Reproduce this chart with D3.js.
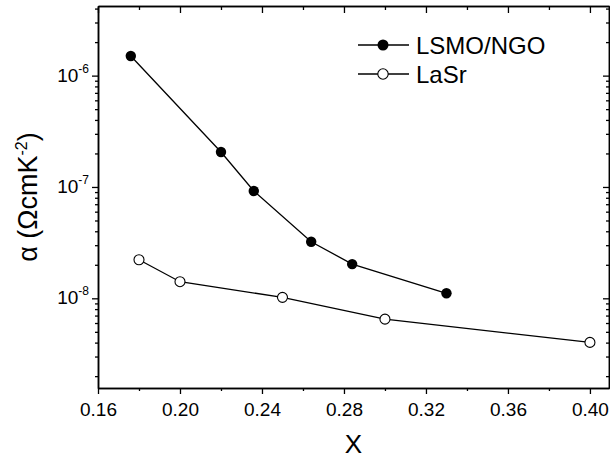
<!DOCTYPE html>
<html>
<head>
<meta charset="utf-8">
<script src="https://cdn.jsdelivr.net/npm/d3@7"></script>
<style>
  body { margin: 0; background: #fff; }
  svg { display: block; }
  text { font-family: "Liberation Sans", Arial, Helvetica, sans-serif; fill: #000; }
</style>
</head>
<body>
<svg id="chart" width="610" height="459"></svg>
<script>
// Temperature coefficient alpha versus Sr content x
const lsmoX = [0.176, 0.220, 0.236, 0.264, 0.284, 0.330];
const lsmoY = [1.50e-6, 2.06e-7, 9.2e-8, 3.22e-8, 2.03e-8, 1.11e-8];
const lasrX = [0.180, 0.200, 0.250, 0.300, 0.400];
const lasrY = [2.22e-8, 1.41e-8, 1.02e-8, 6.5e-9, 4.02e-9];
const seriesNames = ["LSMO/NGO", "LaSr"];
const xTickLabels = ["0.16", "0.20", "0.24", "0.28", "0.32", "0.36", "0.40"];
const xMinorTicks = [0.18, 0.22, 0.26, 0.30, 0.34, 0.38];
const yDecades = [-8, -7, -6];

const W = 610, H = 459;
const margin = { top: 6, right: 1, bottom: 71, left: 98 };
const svg = d3.select("#chart");

const x = d3.scaleLinear()
  .domain([0.16, 0.4093])
  .range([margin.left, W - margin.right]);
const y = d3.scaleLog()
  .domain([1.565e-9, 4.22e-6])
  .range([H - margin.bottom, margin.top]);

const xMajor = xTickLabels.map(Number);
const yMajor = yDecades.map(e => Math.pow(10, e));
const yMinor = y.ticks().filter(v => !yMajor.some(m => Math.abs(v / m - 1) < 1e-6));

function styleAxis(g) {
  g.selectAll("path.domain").attr("stroke", "#000").attr("stroke-width", 1.5);
  g.selectAll(".tick line").attr("stroke", "#000").attr("stroke-width", 1.3);
  return g;
}

const bottomY = H - margin.bottom;
const rightX = W - margin.right;

// Bottom axis (outward ticks, labelled)
svg.append("g").attr("transform", `translate(0,${bottomY})`)
  .call(d3.axisBottom(x).tickValues(xMajor).tickSizeInner(6).tickSizeOuter(0)
    .tickPadding(9).tickFormat((d, i) => xTickLabels[i]))
  .call(styleAxis)
  .call(g => g.selectAll(".tick text").attr("font-size", 19)
    .attr("font-family", "'Liberation Sans', Arial, sans-serif").attr("fill", "#000"));
svg.append("g").attr("transform", `translate(0,${bottomY})`)
  .call(d3.axisBottom(x).tickValues(xMinorTicks).tickSizeInner(3).tickSizeOuter(0).tickFormat(""))
  .call(styleAxis);

// Top axis (inward ticks)
svg.append("g").attr("transform", `translate(0,${margin.top})`)
  .call(d3.axisTop(x).tickValues(xMajor).tickSizeInner(-7).tickSizeOuter(0).tickFormat(""))
  .call(styleAxis);
svg.append("g").attr("transform", `translate(0,${margin.top})`)
  .call(d3.axisTop(x).tickValues(xMinorTicks).tickSizeInner(-4).tickSizeOuter(0).tickFormat(""))
  .call(styleAxis);

// Left axis (outward ticks)
svg.append("g").attr("transform", `translate(${margin.left},0)`)
  .call(d3.axisLeft(y).tickValues(yMajor).tickSizeInner(6).tickSizeOuter(0).tickFormat(""))
  .call(styleAxis);
svg.append("g").attr("transform", `translate(${margin.left},0)`)
  .call(d3.axisLeft(y).tickValues(yMinor).tickSizeInner(3).tickSizeOuter(0).tickFormat(""))
  .call(styleAxis);

// Right axis (inward ticks)
svg.append("g").attr("transform", `translate(${rightX},0)`)
  .call(d3.axisRight(y).tickValues(yMajor).tickSizeInner(-6).tickSizeOuter(0).tickFormat(""))
  .call(styleAxis);
svg.append("g").attr("transform", `translate(${rightX},0)`)
  .call(d3.axisRight(y).tickValues(yMinor).tickSizeInner(-3).tickSizeOuter(0).tickFormat(""))
  .call(styleAxis);

// Power-of-ten labels on the left axis
yDecades.forEach(e => {
  const t = svg.append("text")
    .attr("x", margin.left - 9)
    .attr("y", y(Math.pow(10, e)) + 6)
    .attr("text-anchor", "end")
    .attr("font-size", 19);
  t.append("tspan").text("10");
  t.append("tspan").attr("dy", -9).attr("font-size", 12).text("-" + Math.abs(e));
});

// Axis titles
svg.append("text")
  .attr("x", (margin.left + rightX) / 2)
  .attr("y", 453)
  .attr("text-anchor", "middle")
  .attr("font-size", 26)
  .text("X");

const yt = svg.append("text")
  .attr("transform", `translate(37,${(margin.top + bottomY) / 2}) rotate(-90)`)
  .attr("text-anchor", "middle")
  .attr("font-size", 27);
yt.append("tspan").text("\u03b1 (\u03a9cmK");
yt.append("tspan").attr("dy", -10).attr("font-size", 16).text("-2");
yt.append("tspan").attr("dy", 10).text(")");

// Series
const line = d3.line().x(d => x(d[0])).y(d => y(d[1]));
const lsmo = lsmoX.map((v, i) => [v, lsmoY[i]]);
const lasr = lasrX.map((v, i) => [v, lasrY[i]]);

[lsmo, lasr].forEach(s => {
  svg.append("path").datum(s).attr("d", line)
    .attr("fill", "none").attr("stroke", "#000").attr("stroke-width", 1.3);
});

svg.append("g").selectAll("circle").data(lsmo).join("circle")
  .attr("cx", d => x(d[0])).attr("cy", d => y(d[1])).attr("r", 5.2)
  .attr("fill", "#000");
svg.append("g").selectAll("circle").data(lasr).join("circle")
  .attr("cx", d => x(d[0])).attr("cy", d => y(d[1])).attr("r", 5)
  .attr("fill", "#fff").attr("stroke", "#000").attr("stroke-width", 1.1);

// Legend
const legend = [
  { name: seriesNames[0], filled: true, y: 45 },
  { name: seriesNames[1], filled: false, y: 74 }
];
legend.forEach(l => {
  svg.append("line").attr("x1", 358).attr("x2", 409).attr("y1", l.y).attr("y2", l.y)
    .attr("stroke", "#000").attr("stroke-width", 1.3);
  svg.append("circle").attr("cx", 383).attr("cy", l.y).attr("r", l.filled ? 5.5 : 5.2)
    .attr("fill", l.filled ? "#000" : "#fff")
    .attr("stroke", l.filled ? "none" : "#000").attr("stroke-width", 1.1);
  svg.append("text").attr("x", 416).attr("y", l.y + 8.5).attr("font-size", 24).text(l.name);
});
</script>
</body>
</html>
